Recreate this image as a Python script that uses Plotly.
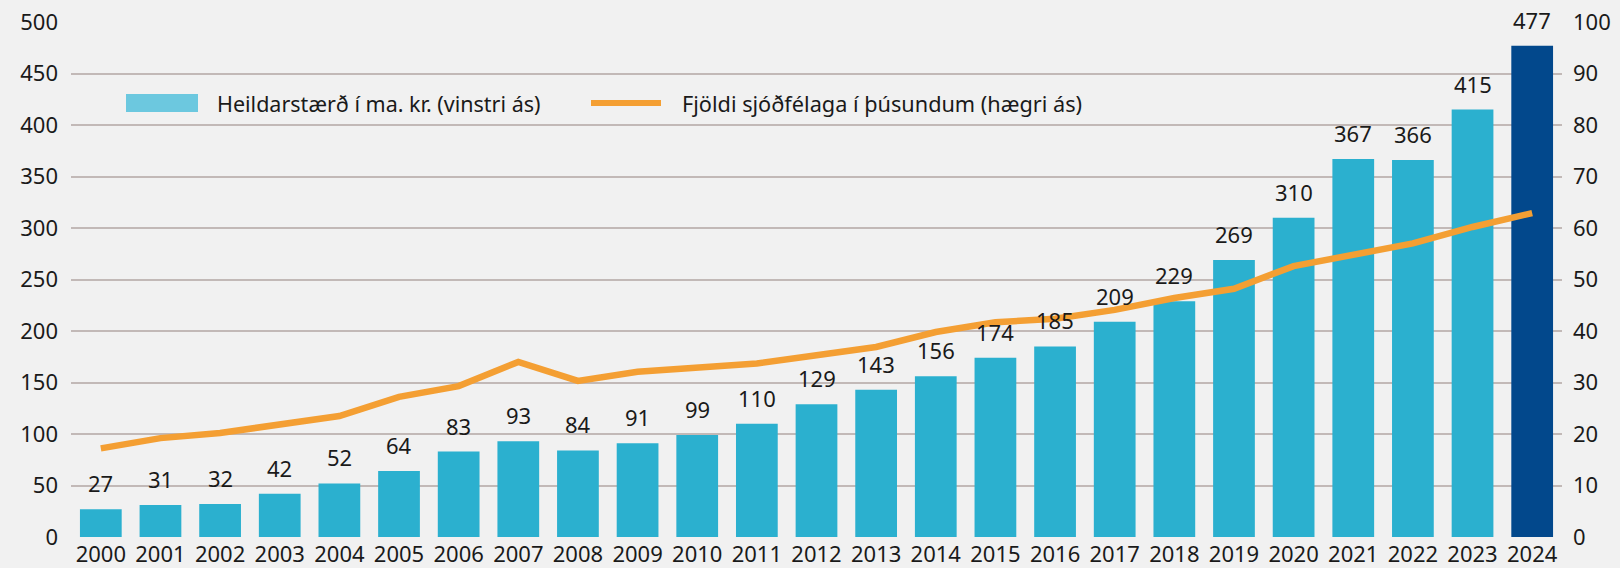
import plotly.graph_objects as go

years = [str(y) for y in range(2000, 2025)]
total_size = [27, 31, 32, 42, 52, 64, 83, 93, 84, 91, 99, 110, 129, 143, 156,
              174, 185, 209, 229, 269, 310, 367, 366, 415, 477]
companies_k = [17.2, 19.2, 20.2, 21.9, 23.5, 27.2, 29.3, 34.0, 30.3, 32.1, 33.0,
               33.7, 35.3, 36.9, 39.8, 41.7, 42.4, 44.1, 46.4, 48.2, 52.6, 54.9,
               57.0, 60.2, 62.9]
left_ticks = [0, 50, 100, 150, 200, 250, 300, 350, 400, 450, 500]
right_ticks = [0, 10, 20, 30, 40, 50, 60, 70, 80, 90, 100]

bar_name = "Heildarstærð í ma. kr. (vinstri ás)"
line_name = "Fjöldi sjóðfélaga í þúsundum (hægri ás)"

BAR = "#2BB0CF"
BAR_LAST = "#02488C"
LEGEND_BAR = "#6CC8DF"
LINE = "#F49F33"
BG = "#F1F1F1"
GRID = "#C2B9B7"
TXT = "#1a1a1a"
FONT = "Noto Sans"

W, H = 1620, 568
ML, MR, MT, MB = 71, 58, 22, 31
PW, PH = W - ML - MR, H - MT - MB


def px(x):
    return (x - ML) / PW


def py(y):
    return (H - MB - y) / PH


colors = [BAR] * (len(years) - 1) + [BAR_LAST]

fig = go.Figure()
fig.add_trace(go.Bar(x=years, y=total_size, marker=dict(color=colors, line=dict(width=0)),
                     showlegend=False, name=bar_name, yaxis="y"))
fig.add_trace(go.Scatter(x=years, y=companies_k, mode="lines", name=line_name,
                         line=dict(color=LINE, width=6.5), yaxis="y2", showlegend=False))

for i, v in enumerate(total_size):
    fig.add_annotation(x=i, y=v, xref="x", yref="y", text=str(v), showarrow=False,
                       yanchor="bottom", yshift=9,
                       font=dict(family=FONT, size=22, color=TXT))

# custom legend (wide swatches as in the reference)
fig.add_shape(type="rect", xref="paper", yref="paper",
              x0=px(126), x1=px(198), y0=py(112), y1=py(94),
              fillcolor=LEGEND_BAR, line=dict(width=0))
fig.add_annotation(xref="paper", yref="paper", x=px(215), y=py(103), text=bar_name,
                   showarrow=False, xanchor="left", yanchor="middle",
                   font=dict(family=FONT, size=21.5, color=TXT))
fig.add_shape(type="line", xref="paper", yref="paper",
              x0=px(591), x1=px(661), y0=py(103), y1=py(103),
              line=dict(color=LINE, width=6))
fig.add_annotation(xref="paper", yref="paper", x=px(680), y=py(103), text=line_name,
                   showarrow=False, xanchor="left", yanchor="middle",
                   font=dict(family=FONT, size=21.7, color=TXT))

fig.update_layout(
    width=W, height=H,
    paper_bgcolor=BG, plot_bgcolor=BG,
    margin=dict(l=ML, r=MR, t=MT, b=MB, autoexpand=False),
    bargap=0.3,
    font=dict(family=FONT, size=22, color=TXT),
    xaxis=dict(type="category", range=[-0.5, 24.5], showgrid=False, showline=False,
               ticks="", tickfont=dict(size=22), automargin=False, ticklabelstandoff=2),
    yaxis=dict(range=[0, 500], tickvals=left_ticks, showgrid=True, gridcolor=GRID,
               gridwidth=2, zeroline=False, ticks="", tickfont=dict(size=22),
               automargin=False, ticklabelstandoff=12),
    yaxis2=dict(range=[0, 100], tickvals=right_ticks, overlaying="y", side="right",
                showgrid=False, zeroline=False, ticks="", tickfont=dict(size=22),
                automargin=False, ticklabelstandoff=10),
    showlegend=False,
)

fig.write_html("out.html",
               config={"displayModeBar": False},
               post_script="document.body.style.margin='0';"
                           "document.body.style.background='#F1F1F1';")
